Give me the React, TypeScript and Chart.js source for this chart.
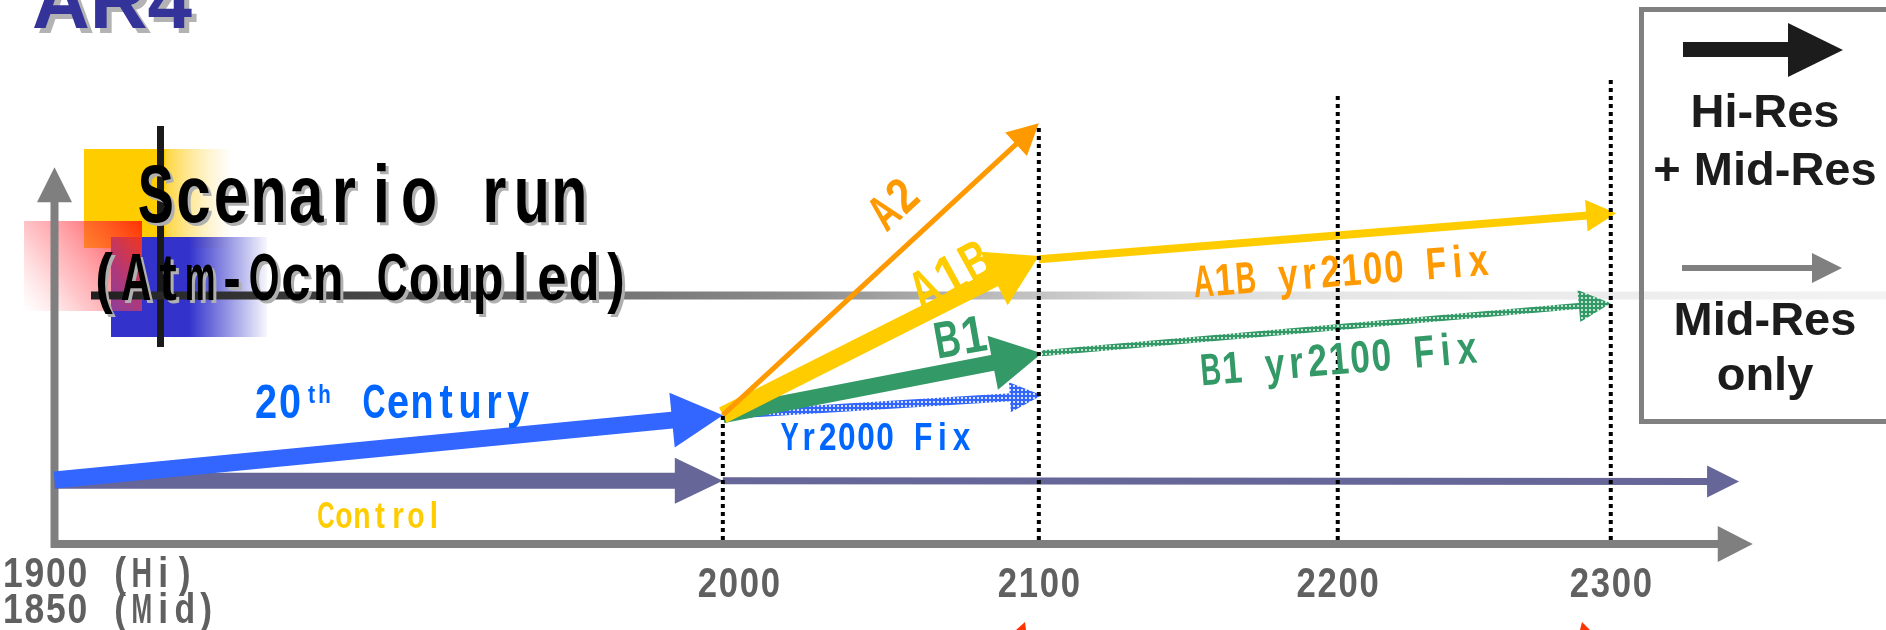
import React, { useEffect, useRef } from "react";
import { Chart, registerables } from "chart.js";
Chart.register(...registerables);

// ---- timeline (years) ----
const TICK_YEARS = [1900, 2000, 2100, 2200, 2300];
const TICK_LABELS = ["2000", "2100", "2200", "2300"];
const ORIGIN_LABELS = ["1900 (Hi)", "1850 (Mid)"];
// relative drawn width of each century on the slide (layout of the schematic axis)
const CENTURY_WIDTH = [2.115, 1.0, 0.946, 0.864];

// dotted marker lines at 2000..2300 (top level of each)
const MARKER_YEARS = [2000, 2100, 2200, 2300];
const MARKER_TOPS = [3.22, 10.48, 11.22, 11.65];

// ---- runs: [start, end] year and level ----
const AXIS_X_YEARS = [1899.5, 2352];
const AXIS_X_LEVEL = [0, 0];
const AXIS_Y_YEARS = [1900, 1900];
const AXIS_Y_LEVEL = [-0.1, 9.42];
const CONTROL_YEARS = [1900, 2000];
const CONTROL_LEVEL = [1.58, 1.58];
const CONTROL_EXT_YEARS = [2000, 2347];
const CONTROL_EXT_LEVEL = [1.58, 1.56];
const C20_YEARS = [1900, 2000];
const C20_LEVEL = [1.6, 3.22];
const YR2000_YEARS = [2000, 2101];
const YR2000_LEVEL = [3.22, 3.72];
const B1_YEARS = [2000, 2101];
const B1_LEVEL = [3.22, 4.77];
const B1_FIX_YEARS = [2101, 2300];
const B1_FIX_LEVEL = [4.77, 6.02];
const A1B_YEARS = [2000, 2100];
const A1B_LEVEL = [3.22, 7.2];
const A1B_FIX_YEARS = [2100, 2302];
const A1B_FIX_LEVEL = [7.12, 8.27];
const A2_YEARS = [2000, 2100];
const A2_LEVEL = [3.22, 10.52];

const SANS = '"Liberation Sans", Arial, sans-serif';
const BLUE = "#3366FF";
const BLUE_TXT = "#0066FF";
const ORANGE = "#FF9900";
const YELLOW = "#FFCC00";
const GREEN = "#339966";
const CONTROL_C = "#666699";
const GRAY = "#7f7f7f";

function pos(year: number): number {
  let u = 0;
  for (let i = 0; i < CENTURY_WIDTH.length; i++) {
    const a = TICK_YEARS[i], b = TICK_YEARS[i + 1];
    if (year <= b || i === CENTURY_WIDTH.length - 1) {
      return u + ((year - a) / (b - a)) * CENTURY_WIDTH[i];
    }
    u += CENTURY_WIDTH[i];
  }
  return u;
}

function pts(years: number[], levels: number[]) {
  return years.map((y, i) => ({ x: pos(y), y: levels[i] }));
}

function drawText(ctx: CanvasRenderingContext2D, s: string, x: number, y: number, o: any) {
  const sx = o.sx ?? 1;
  ctx.save();
  ctx.translate(x, y);
  if (o.rot) ctx.rotate((o.rot * Math.PI) / 180);
  ctx.scale(sx, 1);
  ctx.font = o.font;
  ctx.textAlign = o.align ?? "left";
  ctx.textBaseline = o.base ?? "alphabetic";
  if (o.shadow) {
    ctx.fillStyle = o.shadow;
    ctx.fillText(s, (o.sdx ?? 3) / sx, o.sdy ?? 3);
  }
  ctx.fillStyle = o.color;
  ctx.fillText(s, 0, 0);
  ctx.restore();
}

// fixed-pitch, condensed text (imitates a half-width gothic face)
function monoText(ctx: CanvasRenderingContext2D, s: string, x: number, y: number, o: any) {
  const size = o.size, adv = o.adv;
  const sx = o.sx ?? (1.65 * adv) / size;
  const n = s.length;
  const start = o.align === "center" ? (-n * adv) / 2 : 0;
  ctx.save();
  ctx.translate(x, y);
  if (o.rot) ctx.rotate((o.rot * Math.PI) / 180);
  ctx.font = `${o.weight ?? "bold"} ${size}px ${SANS}`;
  ctx.textAlign = "center";
  ctx.textBaseline = o.base ?? "alphabetic";
  const pass = (color: string, dx: number, dy: number) => {
    for (let i = 0; i < n; i++) {
      const c = s[i];
      if (c === " ") continue;
      const w = ctx.measureText(c).width;
      const k = Math.min(sx, (0.96 * adv) / w);
      ctx.save();
      ctx.translate(start + (i + 0.5) * adv + dx, dy);
      ctx.scale(k, 1);
      ctx.fillStyle = color;
      ctx.fillText(c, 0, 0);
      ctx.restore();
    }
  };
  if (o.shadow) pass(o.shadow, o.sdx ?? 3, o.sdy ?? 3);
  pass(o.color, 0, 0);
  ctx.restore();
}

function tri(ctx: CanvasRenderingContext2D, tx: number, ty: number, ux: number, uy: number, len: number, w: number, fill: any) {
  const bx = tx - ux * len, by = ty - uy * len;
  const nx = -uy, ny = ux;
  ctx.beginPath();
  ctx.moveTo(tx, ty);
  ctx.lineTo(bx + (nx * w) / 2, by + (ny * w) / 2);
  ctx.lineTo(bx - (nx * w) / 2, by - (ny * w) / 2);
  ctx.closePath();
  ctx.fillStyle = fill;
  ctx.fill();
}

const arrowPlugin = {
  id: "arrowHeads",
  afterDatasetsUpdate(chart: any) {
    chart.data.datasets.forEach((ds: any, i: number) => {
      if (!ds.head) return;
      const meta: any = chart.getDatasetMeta(i);
      const p = meta.data;
      const a = p[p.length - 2], b = p[p.length - 1];
      const dx = b.x - a.x, dy = b.y - a.y;
      const L = Math.hypot(dx, dy) || 1;
      const ux = dx / L, uy = dy / L;
      meta.$tip = { x: b.x, y: b.y, ux, uy };
      b.x -= ux * ds.head.len * 0.85;
      b.y -= uy * ds.head.len * 0.85;
    });
  },
  afterDatasetDraw(chart: any, args: any) {
    const ds: any = chart.data.datasets[args.index];
    if (!ds.head) return;
    const t = args.meta.$tip;
    if (!t) return;
    tri(chart.ctx, t.x, t.y, t.ux, t.uy, ds.head.len, ds.head.width, ds.headColor ?? ds.borderColor);
  },
};

const decorPlugin = {
  id: "decor",
  beforeDatasetsDraw(chart: any) {
    const ctx: CanvasRenderingContext2D = chart.ctx;
    ctx.save();
    // yellow square
    let g = ctx.createLinearGradient(84, 0, 233, 0);
    g.addColorStop(0, YELLOW);
    g.addColorStop(0.54, YELLOW);
    g.addColorStop(0.55, "#FFD640");
    g.addColorStop(1, "rgba(255,230,150,0)");
    ctx.fillStyle = g;
    ctx.fillRect(84, 149, 149, 99);
    // blue square
    g = ctx.createLinearGradient(111, 0, 267, 0);
    g.addColorStop(0, "#3333CC");
    g.addColorStop(0.5, "#3333CC");
    g.addColorStop(1, "rgba(51,51,204,0.04)");
    ctx.fillStyle = g;
    ctx.fillRect(111, 237, 156, 100);
    // red square
    g = ctx.createLinearGradient(142, 221, 24, 311);
    g.addColorStop(0, "rgba(255,51,0,1)");
    g.addColorStop(0.35, "rgba(255,60,70,0.6)");
    g.addColorStop(0.65, "rgba(255,90,100,0.35)");
    g.addColorStop(1, "rgba(255,150,150,0)");
    ctx.fillStyle = g;
    ctx.fillRect(24, 221, 118, 90);
    // vertical black bar
    ctx.fillStyle = "#1a1a1a";
    ctx.fillRect(157, 126, 7, 221);
    // long fading horizontal line
    g = ctx.createLinearGradient(91, 0, 1886, 0);
    g.addColorStop(0, "#202020");
    g.addColorStop(0.116, "#3a3a3a");
    g.addColorStop(0.3, "#767676");
    g.addColorStop(0.395, "#8c8c8c");
    g.addColorStop(0.506, "#bcbcbc");
    g.addColorStop(0.59, "#d8d8d8");
    g.addColorStop(0.7, "#e6e6e6");
    g.addColorStop(1, "#f3f3f3");
    ctx.fillStyle = g;
    ctx.fillRect(91, 291.5, 1795, 8);
    // title
    drawText(ctx, "AR4", 32, 28, { font: `bold 80px ${SANS}`, color: "#333399", shadow: "#b3b3b3", sdx: 5, sdy: 5 });
    monoText(ctx, "Scenario run", 137, 222, { size: 82, adv: 37.6, color: "#000", shadow: "#b0b0b0", sdx: 3, sdy: 3 });
    monoText(ctx, "(Atm-Ocn Coupled)", 88, 300, { size: 66, adv: 32, color: "#000", shadow: "#b0b0b0", sdx: 3, sdy: 3 });
    ctx.restore();
  },
  afterDatasetsDraw(chart: any) {
    const ctx: CanvasRenderingContext2D = chart.ctx;
    const xs = chart.scales.x;
    ctx.save();
    // series labels
    monoText(ctx, "A2", 895, 206, { size: 50, adv: 25, rot: -43, align: "center", base: "middle", color: ORANGE });
    monoText(ctx, "A1B", 952, 278, { size: 56, adv: 29, rot: -29, align: "center", base: "middle", color: YELLOW });
    monoText(ctx, "B1", 961, 340, { size: 52, adv: 27, rot: -10, align: "center", base: "middle", color: GREEN });
    monoText(ctx, "A1B yr2100 Fix", 1342, 286, { size: 45, adv: 21.2, rot: -4.4, align: "center", color: ORANGE });
    monoText(ctx, "B1 yr2100 Fix", 1340, 374, { size: 45, adv: 21.4, rot: -4.8, align: "center", color: GREEN });
    monoText(ctx, "20", 254, 418, { size: 49, adv: 24, color: BLUE_TXT });
    monoText(ctx, "th", 305, 403, { size: 26, adv: 13, color: BLUE_TXT });
    monoText(ctx, "Century", 362, 418, { size: 49, adv: 24, color: BLUE_TXT });
    monoText(ctx, "Control", 317, 528, { size: 37, adv: 18, color: YELLOW });
    monoText(ctx, "Yr2000 Fix", 780, 450, { size: 38, adv: 19.1, color: BLUE_TXT });
    // tick labels
    TICK_LABELS.forEach((lab, i) => {
      const px = xs.getPixelForValue(pos(TICK_YEARS[i + 1])) + (i === 0 ? 16 : 0);
      monoText(ctx, lab, px, 597, { size: 42, adv: 21, align: "center", color: "#606060" });
    });
    ORIGIN_LABELS.forEach((lab, i) => {
      monoText(ctx, lab, 2, 587 + i * 36, { size: 42, adv: 21.5, color: "#606060" });
    });
    // legend box
    ctx.strokeStyle = "#808080";
    ctx.lineWidth = 5;
    ctx.strokeRect(1641.5, 9.5, 300, 412);
    ctx.fillStyle = "#1c1c1c";
    ctx.fillRect(1683, 42, 106, 15);
    tri(ctx, 1843, 50, 1, 0, 55, 54, "#1c1c1c");
    ctx.fillStyle = "#808080";
    ctx.fillRect(1682, 265, 131, 6);
    tri(ctx, 1842, 268, 1, 0, 30, 30, "#808080");
    const lf = `bold 47px ${SANS}`;
    drawText(ctx, "Hi-Res", 1765, 127, { font: lf, align: "center", color: "#1c1c1c" });
    drawText(ctx, "+ Mid-Res", 1765, 185, { font: lf, align: "center", color: "#1c1c1c" });
    drawText(ctx, "Mid-Res", 1765, 335, { font: lf, align: "center", color: "#1c1c1c" });
    drawText(ctx, "only", 1765, 390, { font: lf, align: "center", color: "#1c1c1c" });
    // small red marks at the bottom edge
    ctx.fillStyle = "#FF3300";
    ctx.beginPath();
    ctx.moveTo(1016, 630); ctx.lineTo(1025, 622); ctx.lineTo(1026, 630); ctx.closePath(); ctx.fill();
    ctx.beginPath();
    ctx.moveTo(1580, 630); ctx.lineTo(1582, 622); ctx.lineTo(1590, 630); ctx.closePath(); ctx.fill();
    ctx.restore();
  },
};

function makePattern(ctx: CanvasRenderingContext2D, color: string, alpha: number) {
  const c = document.createElement("canvas");
  c.width = 4;
  c.height = 4;
  const g = c.getContext("2d")!;
  g.fillStyle = color;
  g.fillRect(0, 0, 4, 4);
  g.fillStyle = `rgba(255,255,255,${alpha})`;
  g.fillRect(1, 1, 2, 2);
  return ctx.createPattern(c, "repeat");
}

export default function App() {
  const ref = useRef<HTMLCanvasElement>(null);
  useEffect(() => {
    document.body.style.margin = "0";
    const canvas = ref.current!;
    const ctx = canvas.getContext("2d")!;
    const bluePat = makePattern(ctx, BLUE, 0.8);
    const greenPat = makePattern(ctx, GREEN, 0.7);

    const arrow = (label: string, years: number[], levels: number[], color: any, width: number, head: any) => ({
      label,
      data: pts(years, levels),
      borderColor: color,
      backgroundColor: color,
      borderWidth: width,
      head,
      showLine: true,
      pointRadius: 0,
      borderCapStyle: "butt",
      fill: false,
      clip: false,
    });

    const datasets: any[] = [
      arrow("y-axis", AXIS_Y_YEARS, AXIS_Y_LEVEL, GRAY, 8, { len: 35, width: 35 }),
      arrow("x-axis", AXIS_X_YEARS, AXIS_X_LEVEL, GRAY, 8, { len: 35, width: 36 }),
      arrow("Control", CONTROL_YEARS, CONTROL_LEVEL, CONTROL_C, 16, { len: 48, width: 46 }),
      arrow("Control (cont.)", CONTROL_EXT_YEARS, CONTROL_EXT_LEVEL, CONTROL_C, 7, { len: 32, width: 32 }),
      arrow("20th Century", C20_YEARS, C20_LEVEL, BLUE, 17, { len: 51, width: 55 }),
      arrow("Yr2000 Fix", YR2000_YEARS, YR2000_LEVEL, bluePat, 8, { len: 32, width: 30 }),
      arrow("B1", B1_YEARS, B1_LEVEL, GREEN, 16, { len: 50, width: 55 }),
      arrow("B1 yr2100 Fix", B1_FIX_YEARS, B1_FIX_LEVEL, greenPat, 6, { len: 32, width: 32 }),
      arrow("A1B", A1B_YEARS, A1B_LEVEL, YELLOW, 17, { len: 50, width: 60 }),
      arrow("A1B yr2100 Fix", A1B_FIX_YEARS, A1B_FIX_LEVEL, YELLOW, 8, { len: 30, width: 32 }),
      arrow("A2", A2_YEARS, A2_LEVEL, ORANGE, 5, { len: 31, width: 32 }),
    ];
    MARKER_YEARS.forEach((yr, i) => {
      datasets.push({
        label: `marker ${yr}`,
        data: pts([yr, yr], [0.1, MARKER_TOPS[i]]),
        borderColor: "#000",
        borderWidth: 4,
        borderDash: [4, 4],
        showLine: true,
        pointRadius: 0,
        borderCapStyle: "butt",
        fill: false,
        clip: false,
      });
    });
    datasets.forEach((d, i) => (d.order = datasets.length - i));

    const chart = new Chart(canvas, {
      type: "scatter",
      data: { datasets },
      options: {
        responsive: false,
        animation: false,
        events: [],
        layout: { padding: 0 },
        plugins: { legend: { display: false }, tooltip: { enabled: false } },
        scales: {
          x: { type: "linear", min: -0.1725, max: 5.796, display: false },
          y: { type: "linear", min: -2.15, max: 13.6, display: false },
        },
      } as any,
      plugins: [arrowPlugin as any, decorPlugin as any],
    });
    return () => chart.destroy();
  }, []);
  return (
    <div style={{ width: 1886, height: 630, background: "#fff" }}>
      <canvas ref={ref} width={1886} height={630} style={{ display: "block" }} />
    </div>
  );
}
